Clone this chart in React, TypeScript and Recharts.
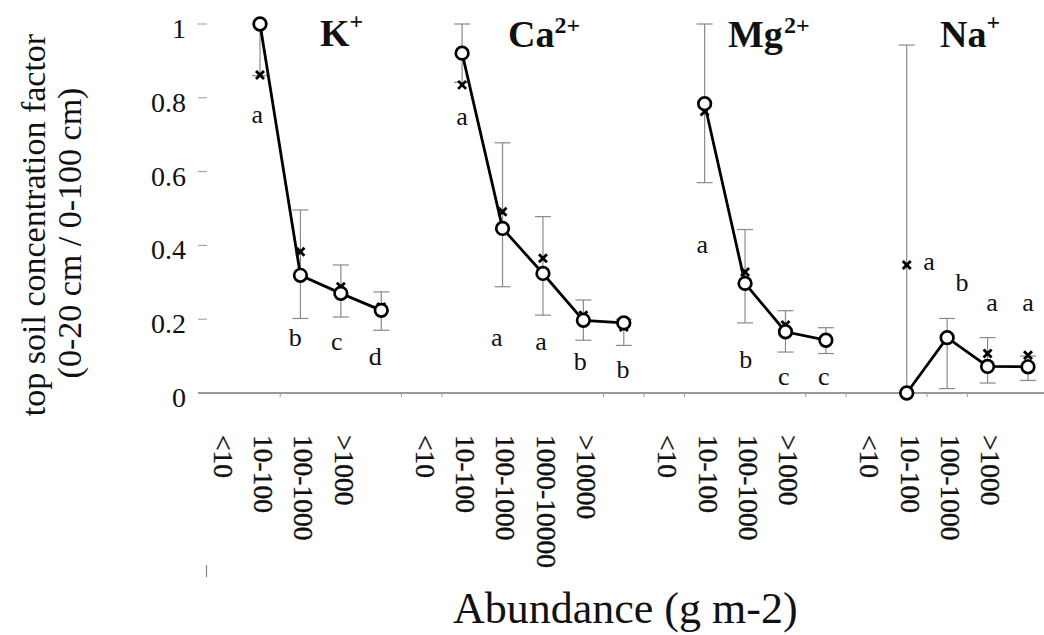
import React from 'react';
import { ComposedChart, Line, Scatter, XAxis, YAxis, ErrorBar } from 'recharts';

// Abundance classes for each ion
const kLabels = ['<10', '10-100', '100-1000', '>1000'];
const caLabels = ['<10', '10-100', '100-1000', '1000-10000', '>10000'];
const mgLabels = ['<10', '10-100', '100-1000', '>1000'];
const naLabels = ['<10', '10-100', '100-1000', '>1000'];

// Mean concentration factor (circles)
const kMean = [1.0, 0.319, 0.27, 0.224];
const caMean = [0.921, 0.446, 0.324, 0.197, 0.19];
const mgMean = [0.784, 0.297, 0.166, 0.143];
const naMean = [0.0, 0.15, 0.072, 0.071];

// Median concentration factor (crosses)
const kMedian = [0.862, 0.383, 0.288, 0.233];
const caMedian = [0.835, 0.491, 0.365, 0.211, 0.179];
const mgMedian = [0.763, 0.328, 0.184, 0.148];
const naMedian = [0.347, 0.15, 0.107, 0.102];

// Error bar ends (lower / upper)
const kLow = [0.86, 0.202, 0.206, 0.17];
const kHigh = [1.0, 0.496, 0.347, 0.274];
const caLow = [0.842, 0.288, 0.211, 0.143, 0.129];
const caHigh = [1.0, 0.678, 0.478, 0.252, 0.2];
const mgLow = [0.57, 0.19, 0.111, 0.107];
const mgHigh = [1.0, 0.443, 0.223, 0.177];
const naLow = [0.0, 0.012, 0.027, 0.034];
const naHigh = [0.943, 0.202, 0.15, 0.1];

// Significance letters and where they sit (slot shift, factor value)
const kLetters = ['a', 'b', 'c', 'd'];
const caLetters = ['a', 'a', 'a', 'b', 'b'];
const mgLetters = ['a', 'b', 'c', 'c'];
const naLetters = ['a', 'b', 'a', 'a'];
const kLetterShift = [-0.07, -0.13, -0.1, -0.15];
const caLetterShift = [0, -0.14, -0.05, -0.08, -0.02];
const mgLetterShift = [-0.06, 0.02, -0.04, -0.05];
const naLetterShift = [0.55, 0.37, 0.11, 0.0];
const kLetterY = [0.753, 0.148, 0.138, 0.097];
const caLetterY = [0.748, 0.148, 0.138, 0.083, 0.062];
const mgLetterY = [0.401, 0.089, 0.043, 0.043];
const naLetterY = [0.355, 0.298, 0.243, 0.243];

// First slot of each ion block on the shared x axis
const groupStart = [0, 5, 11, 16];
const boundaryTicks = [0.5, 3.5, 4.5, 8.5, 9.5, 10.5, 13.5, 14.5, 16.5, 17.5];
const yTicks = [0, 0.2, 0.4, 0.6, 0.8, 1];
const yTickLabels = ['0', '0.2', '0.4', '0.6', '0.8', '1'];

const FONT = '"Liberation Serif", "Times New Roman", serif';

type Row = { x: number; label: string; mean: number; median: number; err: [number, number] };

function buildRows(start: number, labels: string[], mean: number[], median: number[], low: number[], high: number[]): Row[] {
  return labels.map((label, i) => ({
    x: start + i,
    label,
    mean: mean[i],
    median: median[i],
    err: [mean[i] - low[i], high[i] - mean[i]],
  }));
}

function buildLetters(start: number, letters: string[], shift: number[], ys: number[]) {
  return letters.map((letter, i) => ({ x: start + i + shift[i], ly: ys[i], letter }));
}

const kRows = buildRows(groupStart[0], kLabels, kMean, kMedian, kLow, kHigh);
const caRows = buildRows(groupStart[1], caLabels, caMean, caMedian, caLow, caHigh);
const mgRows = buildRows(groupStart[2], mgLabels, mgMean, mgMedian, mgLow, mgHigh);
const naRows = buildRows(groupStart[3], naLabels, naMean, naMedian, naLow, naHigh);
const allRows = [...kRows, ...caRows, ...mgRows, ...naRows];

const letterRows = [
  ...buildLetters(groupStart[0], kLetters, kLetterShift, kLetterY),
  ...buildLetters(groupStart[1], caLetters, caLetterShift, caLetterY),
  ...buildLetters(groupStart[2], mgLetters, mgLetterShift, mgLetterY),
  ...buildLetters(groupStart[3], naLetters, naLetterShift, naLetterY),
];

const slotLabel: Record<number, string> = {};
allRows.forEach((r) => {
  slotLabel[r.x] = r.label;
});
const xTicks = [...allRows.map((r) => r.x), ...boundaryTicks].sort((a, b) => a - b);

const XTick = (props: any) => {
  const { x, y, payload } = props;
  const v = payload.value as number;
  if (Number.isInteger(v)) {
    const tx = x - 37;
    const ty = y + 42;
    return (
      <text
        x={tx}
        y={ty}
        transform={`rotate(90, ${tx}, ${ty})`}
        textAnchor="start"
        dominantBaseline="central"
        fontFamily={FONT}
        fontSize={27.5}
        fill="#111"
        stroke="#111"
        strokeWidth={0.35}
      >
        {slotLabel[v]}
      </text>
    );
  }
  return <line x1={x} y1={y} x2={x} y2={y + 4} stroke="#999" strokeWidth={1} />;
};

const YTick = (props: any) => {
  const { x, y, payload, index } = props;
  return (
    <g>
      <line x1={x} y1={y} x2={x + 9} y2={y} stroke="#999" strokeWidth={1} />
      <text x={x - 12} y={y + 14} textAnchor="end" fontFamily={FONT} fontSize={28} fill="#111">
        {yTickLabels[index] ?? String(payload.value)}
      </text>
    </g>
  );
};

const CrossMark = (props: any) => {
  const { cx, cy } = props;
  if (cx == null || cy == null) return null;
  const s = 4;
  return (
    <g stroke="#000" strokeWidth={2.8}>
      <line x1={cx - s} y1={cy - s} x2={cx + s} y2={cy + s} />
      <line x1={cx - s} y1={cy + s} x2={cx + s} y2={cy - s} />
    </g>
  );
};

const LetterMark = (props: any) => {
  const { cx, cy, payload } = props;
  if (cx == null || cy == null) return null;
  return (
    <text x={cx} y={cy + 8} textAnchor="middle" fontFamily={FONT} fontSize={26} fill="#111">
      {payload.letter}
    </text>
  );
};

const CircleDot = (props: any) => {
  const { cx, cy } = props;
  if (cx == null || cy == null) return null;
  return <circle cx={cx} cy={cy} r={6.3} fill="#fff" stroke="#000" strokeWidth={2.7} />;
};

const ionSeries = [kRows, caRows, mgRows, naRows];

export default function App() {
  return (
    <div style={{ position: 'absolute', left: 0, top: 0, width: 1044, height: 635, background: '#fff', overflow: 'hidden' }}>
      <ComposedChart width={1044} height={635} margin={{ top: 24, right: 0, bottom: 0, left: 0 }}>
        <XAxis
          type="number"
          dataKey="x"
          domain={[-1.534, 19.396]}
          allowDataOverflow
          ticks={xTicks}
          interval={0}
          tickSize={0}
          tickMargin={0}
          tickLine={false}
          axisLine={{ stroke: '#777', strokeWidth: 1.5 }}
          height={242}
          tick={<XTick />}
        />
        <YAxis
          type="number"
          domain={[0, 1]}
          ticks={yTicks}
          interval={0}
          width={198}
          tickSize={0}
          tickMargin={0}
          tickLine={false}
          axisLine={false}
          tick={<YTick />}
        />
        {ionSeries.map((rows, i) => (
          <Line
            key={`ion-${i}`}
            data={rows}
            dataKey="mean"
            stroke="#000"
            strokeWidth={2.8}
            dot={<CircleDot />}
            activeDot={false}
            isAnimationActive={false}
          >
            <ErrorBar dataKey="err" width={8} stroke="#8a8a8a" strokeWidth={1.2} direction="y" />
          </Line>
        ))}
        <Scatter data={allRows} dataKey="median" shape={<CrossMark />} isAnimationActive={false} />
        <Scatter data={letterRows} dataKey="ly" shape={<LetterMark />} isAnimationActive={false} />
      </ComposedChart>
      <svg
        width={1044}
        height={635}
        style={{ position: 'absolute', left: 0, top: 0, pointerEvents: 'none' }}
        fontFamily={FONT}
        fill="#111"
      >
        <text x={320} y={46} fontSize={38} fontWeight="bold">
          K<tspan dy={-17} fontSize={24}>+</tspan>
        </text>
        <text x={508} y={47} fontSize={38} fontWeight="bold">
          Ca<tspan dy={-14} fontSize={24}>2+</tspan>
        </text>
        <text x={728} y={47} fontSize={38} fontWeight="bold">
          Mg<tspan dx={1} dy={-14} fontSize={24}>2+</tspan>
        </text>
        <text x={940} y={47} fontSize={38} fontWeight="bold">
          Na<tspan dy={-17} fontSize={24}>+</tspan>
        </text>
        <text x={33} y={225} transform="rotate(-90, 33, 225)" textAnchor="middle" dominantBaseline="central" fontSize={34}>
          top soil concentration factor
        </text>
        <text x={69} y={233} transform="rotate(-90, 69, 233)" textAnchor="middle" dominantBaseline="central" fontSize={34}>
          (0-20 cm / 0-100 cm)
        </text>
        <text x={453} y={623} fontSize={44}>
          Abundance (g m-2)
        </text>
        <line x1={206.5} y1={565} x2={206.5} y2={577} stroke="#888" strokeWidth={1.2} />
      </svg>
    </div>
  );
}
